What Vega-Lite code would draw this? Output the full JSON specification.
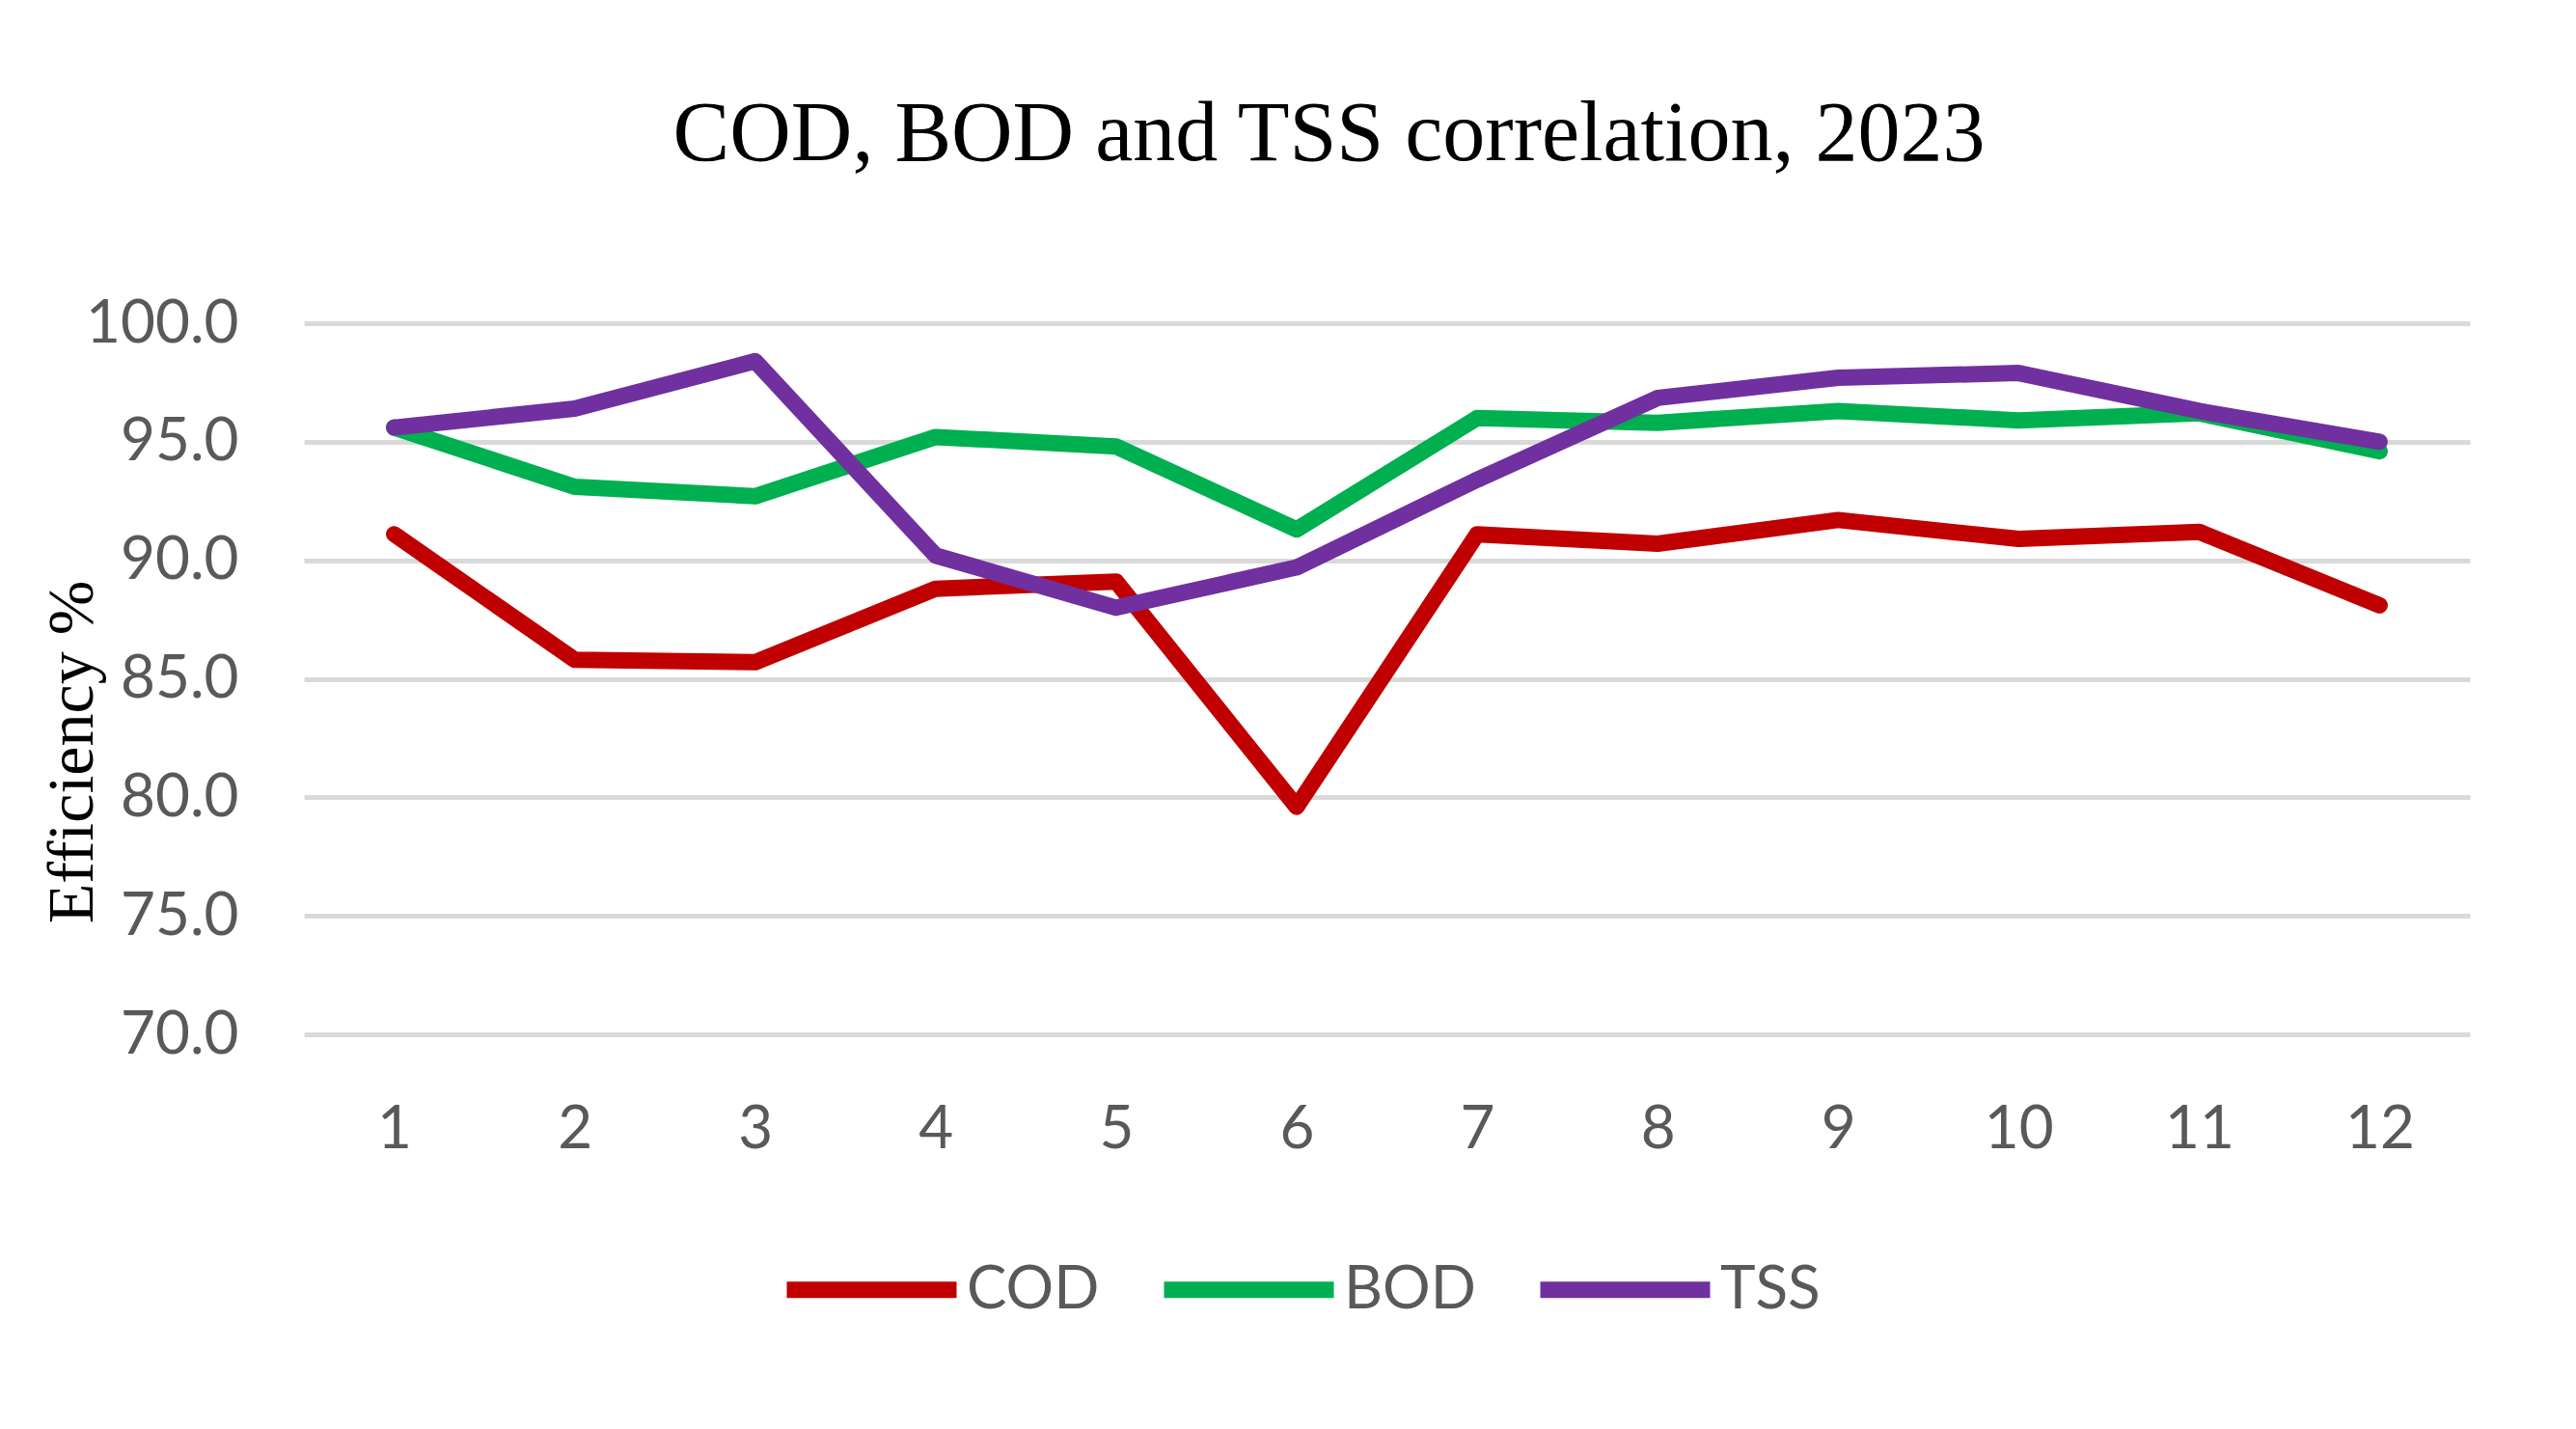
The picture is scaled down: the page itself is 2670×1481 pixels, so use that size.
{
  "$schema": "https://vega.github.io/schema/vega-lite/v6.json",
  "width": 2245,
  "height": 737,
  "autosize": {"type": "none"},
  "padding": {"left": 315, "top": 335, "right": 110, "bottom": 409},
  "background": "white",
  "title": {
    "text": "COD, BOD and TSS correlation, 2023",
    "font": "Liberation Serif",
    "fontSize": 88,
    "fontWeight": "normal",
    "color": "#000000",
    "anchor": "middle",
    "frame": "group",
    "dx": -60,
    "baseline": "alphabetic",
    "offset": 50
  },
  "data": {
    "values": [
      {"month": 1, "series": "COD", "value": 91.1},
      {"month": 2, "series": "COD", "value": 85.8},
      {"month": 3, "series": "COD", "value": 85.7},
      {"month": 4, "series": "COD", "value": 88.8},
      {"month": 5, "series": "COD", "value": 89.1},
      {"month": 6, "series": "COD", "value": 79.6},
      {"month": 7, "series": "COD", "value": 91.1},
      {"month": 8, "series": "COD", "value": 90.7},
      {"month": 9, "series": "COD", "value": 91.7},
      {"month": 10, "series": "COD", "value": 90.9},
      {"month": 11, "series": "COD", "value": 91.2},
      {"month": 12, "series": "COD", "value": 88.1},
      {"month": 1, "series": "BOD", "value": 95.6},
      {"month": 2, "series": "BOD", "value": 93.1},
      {"month": 3, "series": "BOD", "value": 92.7},
      {"month": 4, "series": "BOD", "value": 95.2},
      {"month": 5, "series": "BOD", "value": 94.8},
      {"month": 6, "series": "BOD", "value": 91.3},
      {"month": 7, "series": "BOD", "value": 96.0},
      {"month": 8, "series": "BOD", "value": 95.8},
      {"month": 9, "series": "BOD", "value": 96.3},
      {"month": 10, "series": "BOD", "value": 95.9},
      {"month": 11, "series": "BOD", "value": 96.2},
      {"month": 12, "series": "BOD", "value": 94.6},
      {"month": 1, "series": "TSS", "value": 95.6},
      {"month": 2, "series": "TSS", "value": 96.4},
      {"month": 3, "series": "TSS", "value": 98.4},
      {"month": 4, "series": "TSS", "value": 90.2},
      {"month": 5, "series": "TSS", "value": 88.0},
      {"month": 6, "series": "TSS", "value": 89.7},
      {"month": 7, "series": "TSS", "value": 93.4},
      {"month": 8, "series": "TSS", "value": 96.85},
      {"month": 9, "series": "TSS", "value": 97.7},
      {"month": 10, "series": "TSS", "value": 97.9},
      {"month": 11, "series": "TSS", "value": 96.3},
      {"month": 12, "series": "TSS", "value": 95.0}
    ]
  },
  "mark": {"type": "line", "strokeWidth": 17, "strokeCap": "round", "strokeJoin": "round"},
  "encoding": {
    "x": {
      "field": "month",
      "type": "ordinal",
      "scale": {"type": "point", "padding": 0.5},
      "axis": {
        "title": null,
        "labelAngle": 0,
        "labelFont": "Lato",
        "labelFontSize": 62,
        "labelColor": "#595959",
        "domain": false,
        "ticks": false,
        "grid": false,
        "labelPadding": 68
      }
    },
    "y": {
      "field": "value",
      "type": "quantitative",
      "scale": {"domain": [70, 100], "nice": false, "zero": false},
      "axis": {
        "values": [70, 75, 80, 85, 90, 95, 100],
        "format": ".1f",
        "title": "Efficiency %",
        "titleFont": "Liberation Serif",
        "titleFontSize": 68,
        "titleFontWeight": "normal",
        "titleColor": "#000000",
        "titleAngle": -90,
        "titleX": -220,
        "titleY": 444,
        "titleBaseline": "alphabetic",
        "titleAlign": "center",
        "labelFont": "Lato",
        "labelFontSize": 62,
        "labelColor": "#595959",
        "labelPadding": 68,
        "domain": false,
        "ticks": false,
        "grid": true,
        "gridColor": "#D9D9D9",
        "gridWidth": 5
      }
    },
    "color": {
      "field": "series",
      "type": "nominal",
      "sort": ["COD", "BOD", "TSS"],
      "scale": {"domain": ["COD", "BOD", "TSS"], "range": ["#C00000", "#00B050", "#7030A0"]},
      "legend": {
        "title": null,
        "orient": "none",
        "direction": "horizontal",
        "legendX": 492,
        "legendY": 905,
        "symbolType": "stroke",
        "symbolSize": 30976,
        "symbolStrokeWidth": 17,
        "labelFont": "Lato",
        "labelFontSize": 62,
        "labelColor": "#595959",
        "labelOffset": 2,
        "columnPadding": 32,
        "padding": 0
      }
    }
  },
  "config": {"view": {"stroke": null}}
}
